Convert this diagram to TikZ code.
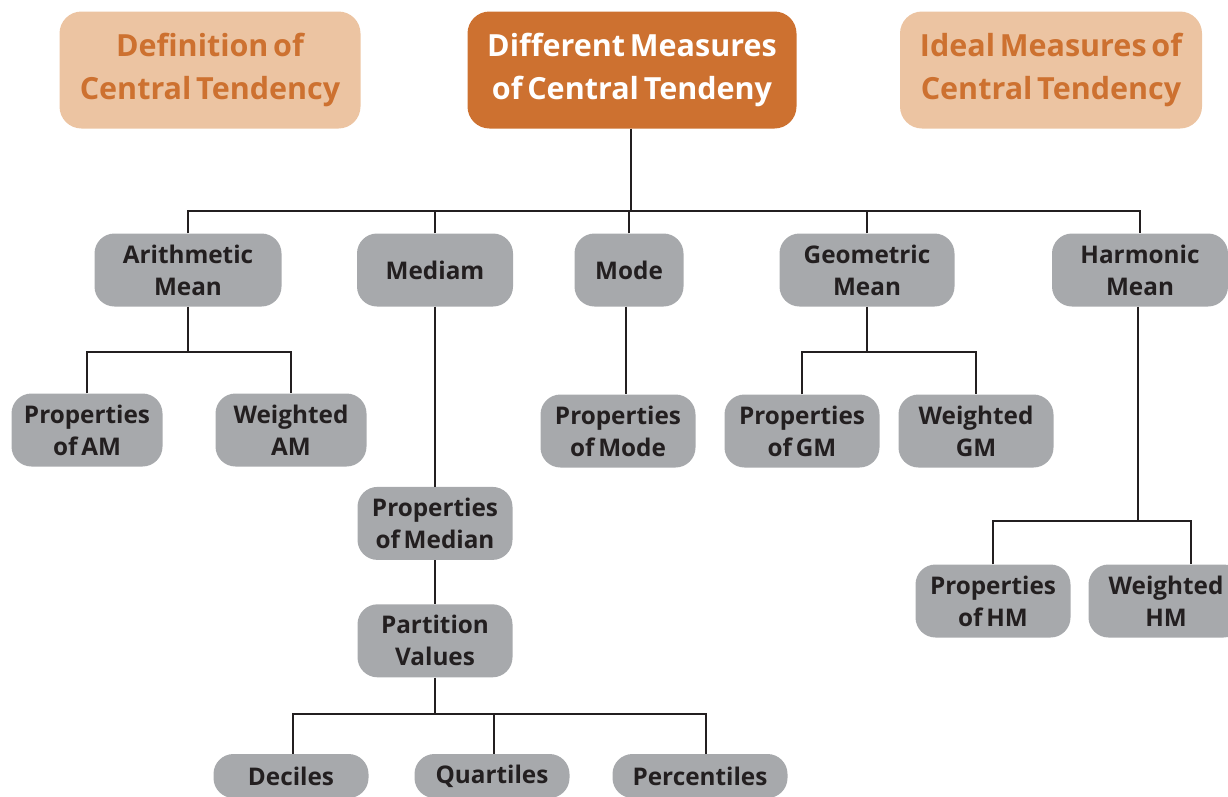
\documentclass[tikz,border=0pt]{standalone}
\usepackage{fontspec}
\setmainfont[WordSpace=0.6]{Open Sans}
\usetikzlibrary{positioning}

\definecolor{boxgray}{HTML}{A7A9AC}
\definecolor{inkdark}{HTML}{231F20}
\definecolor{rust}{HTML}{CD7130}
\definecolor{peach}{HTML}{ECC4A2}

\tikzset{
  meas/.style={rounded corners=20pt, fill=boxgray, text=inkdark, align=center,
    font=\bfseries\fontsize{24.3}{32}\selectfont, minimum height=73pt, inner sep=0pt},
  head/.style={rounded corners=22pt, align=center,
    font=\bfseries\fontsize{30.5}{43}\selectfont, minimum height=117pt, inner sep=0pt},
  link/.style={draw=inkdark, line width=2pt}
}

\begin{document}
\begin{tikzpicture}[x=1pt,y=-1pt]
    \useasboundingbox (0,0) rectangle (1228,796);

    % header row
    \node[head, fill=peach, text=rust, minimum width=301pt] (def) at (210,70) {Definition of\\Central Tendency};
    \node[head, fill=rust, text=white, minimum width=329pt] (dm) at (632,70) {Different Measures\\of Central Tendeny};
    \node[head, fill=peach, text=rust, minimum width=302pt] (ideal) at (1051,70) {Ideal Measures of\\Central Tendency};

    % the five measures
    \node[meas, minimum width=187pt] (am) at (188,270) {Arithmetic\\Mean};
    \node[meas, minimum width=156pt] (med) at (435,270) {Mediam};
    \node[meas, minimum width=109pt] (mode) at (629,270) {Mode};
    \node[meas, minimum width=175pt] (gm) at (867,270) {Geometric\\Mean};
    \node[meas, minimum width=176pt] (hm) at (1140,270) {Harmonic\\Mean};

    % second level
    \node[meas, minimum width=151pt] (pam) at (87,430) {Properties\\of AM};
    \node[meas, minimum width=151pt] (wam) at (291,430) {Weighted\\AM};
    \node[meas, minimum width=155pt, below=180pt of med.south, anchor=north] (pmed) {Properties\\of Median};
    \node[meas, minimum width=155pt, below=44pt of pmed] (part) {Partition\\Values};
    \node[meas, minimum width=155pt] (pmode) at (618,431) {Properties\\of Mode};
    \node[meas, minimum width=155pt] (pgm) at (802,431) {Properties\\of GM};
    \node[meas, minimum width=155pt] (wgm) at (976,431) {Weighted\\GM};
    \node[meas, minimum width=155pt] (phm) at (993,601) {Properties\\of HM};
    \node[meas, minimum width=155pt] (whm) at (1166,601) {Weighted\\HM};

    % partition values
    \node[meas, minimum width=155pt, minimum height=44pt] (dec) at (291,776) {Deciles};
    \node[meas, minimum width=155pt, minimum height=44pt] (qua) at (492,776) {Quartiles};
    \node[meas, minimum width=175pt, minimum height=44pt] (pct) at (700,776) {Percentiles};

    % junctions
    \coordinate (bus) at (631,211);
    \coordinate (amj) at (188,352);
    \coordinate (gmj) at (867,352);
    \coordinate (hmj) at (1138,521);
    \coordinate (ptj) at (435,714);

    \draw[link] (dm.south -| bus) -- (bus);
    \draw[link] (am.north) |- (bus) -| (hm.north);
    \draw[link] (med.north) -- (med.north |- bus);
    \draw[link] (mode.north) -- (mode.north |- bus);
    \draw[link] (gm.north) -- (gm.north |- bus);

    \draw[link] (am.south) -- (amj);
    \draw[link] (pam.north) |- (amj) -| (wam.north);

    \draw[link] (med.south) -- (pmed.north);
    \draw[link] (pmed.south) -- (part.north);
    \draw[link] (part.south) -- (ptj);
    \draw[link] ([xshift=2pt]dec.north) |- (ptj) -| ([xshift=6pt]pct.north);
    \draw[link] ([xshift=2pt]qua.north) -- ([xshift=2pt]qua.north |- ptj);

    \draw[link] ([xshift=-3pt]mode.south) -- ([xshift=-3pt]mode.south |- pmode.north);

    \draw[link] (gm.south) -- (gmj);
    \draw[link] (pgm.north) |- (gmj) -| (wgm.north);

    \draw[link] (hm.south -| hmj) -- (hmj);
    \draw[link] (phm.north) |- (hmj) -| ([xshift=25pt]whm.north);
\end{tikzpicture}
\end{document}
